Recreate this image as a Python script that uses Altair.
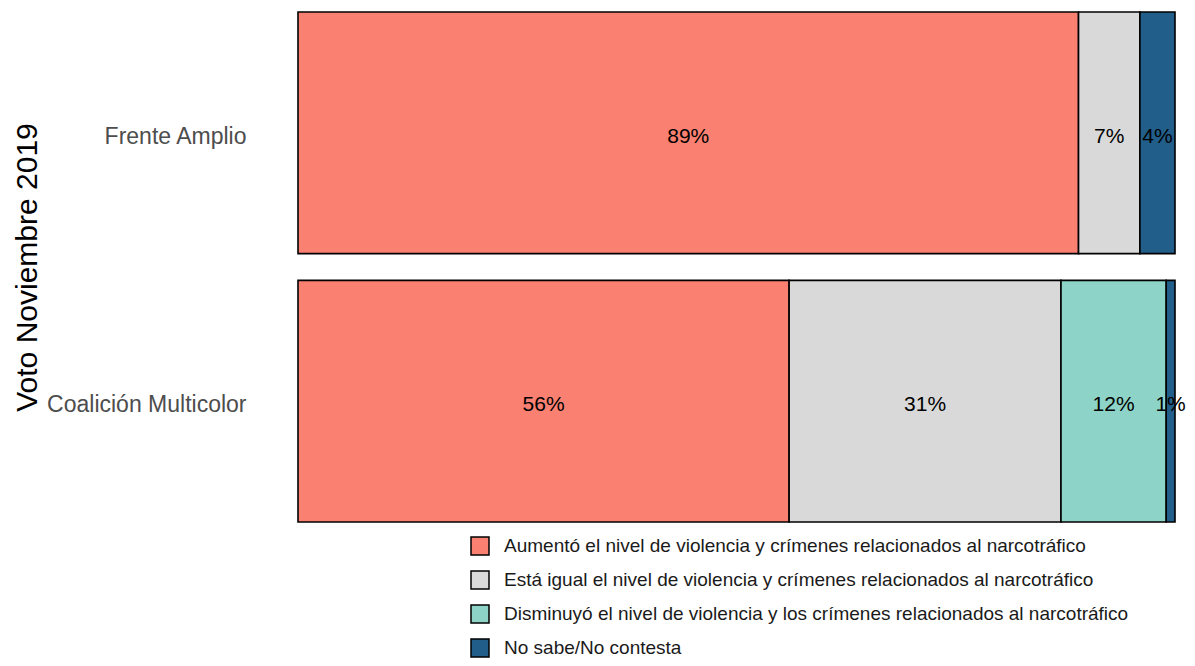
import altair as alt
import pandas as pd

groups = ["Frente Amplio", "Coalición Multicolor"]
categories = [
    "Aumentó el nivel de violencia y crímenes relacionados al narcotráfico",
    "Está igual el nivel de violencia y crímenes relacionados al narcotráfico",
    "Disminuyó el nivel de violencia y los crímenes relacionados al narcotráfico",
    "No sabe/No contesta",
]
colors = ["#FA8072", "#D9D9D9", "#8DD3C7", "#225E8A"]
frente_amplio = [89, 7, 0, 4]
coalicion = [56, 31, 12, 1]

rows = []
for g, vals in zip(groups, [frente_amplio, coalicion]):
    for i, (c, v) in enumerate(zip(categories, vals)):
        if v > 0:
            rows.append({"grupo": g, "cat": c, "orden": i, "valor": v, "label": f"{v}%"})
df = pd.DataFrame(rows)

base = alt.Chart(df).transform_window(
    cum="sum(valor)", sort=[alt.SortField("orden")], groupby=["grupo"], frame=[None, 0]
).transform_calculate(
    start="datum.cum - datum.valor", mid="datum.cum - datum.valor / 2"
)

yenc = alt.Y(
    "grupo:N",
    sort=groups,
    title="Voto Noviembre 2019",
    scale=alt.Scale(paddingInner=0.1, paddingOuter=0.0),
    axis=alt.Axis(
        domain=False, ticks=False, labelFontSize=23, labelColor="#4d4d4d",
        labelPadding=52, labelLimit=400, labelOffset=4,
        titleFontSize=30, titleFontWeight="normal", titleColor="black",
        titlePadding=56, labelFont="Liberation Sans", titleFont="Liberation Sans",
    ),
)

bars = base.mark_bar(stroke="black", strokeWidth=1.6).encode(
    x=alt.X("start:Q", scale=alt.Scale(domain=[0, 100], nice=False, zero=True), axis=None),
    x2="cum:Q",
    y=yenc,
    color=alt.Color(
        "cat:N",
        scale=alt.Scale(domain=categories, range=colors),
        legend=alt.Legend(
            title=None, orient="none", legendX=172, legendY=524, symbolType="square",
            symbolSize=324, symbolStrokeColor="black", symbolStrokeWidth=1.5,
            labelFontSize=19, labelFont="Liberation Sans", labelColor="#1a1a1a",
            rowPadding=10, labelLimit=900, symbolOffset=0, labelOffset=14,
        ),
    ),
)

texts = base.mark_text(fontSize=21, color="black", font="Liberation Sans", dy=4).encode(
    x=alt.X("mid:Q", scale=alt.Scale(domain=[0, 100], nice=False)),
    y=alt.Y("grupo:N", sort=groups),
    text="label:N",
)

chart = (bars + texts).properties(
    width=877, height=510,
    padding={"left": 290, "top": 4, "right": 12, "bottom": 136},
    autosize=alt.AutoSizeParams(type="none"),
).configure_view(stroke=None)

chart.save("out.html", embed_options={"renderer": "svg", "actions": False})
